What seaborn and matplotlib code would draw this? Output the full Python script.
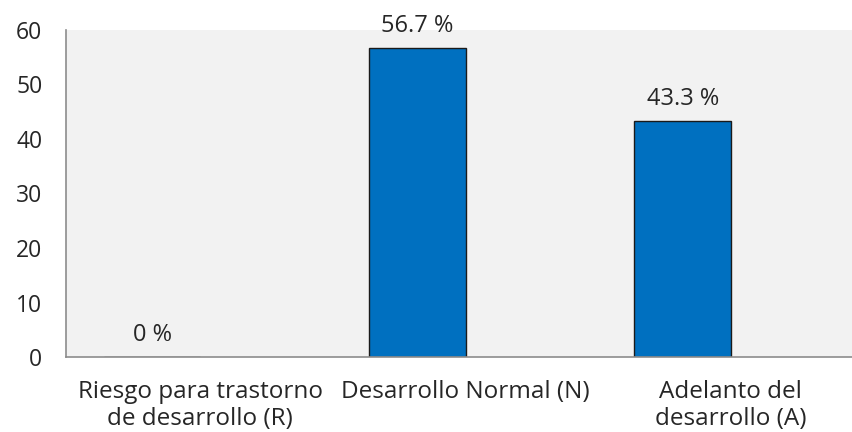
import matplotlib
matplotlib.use("Agg")
import matplotlib.pyplot as plt
from matplotlib.transforms import ScaledTranslation
import seaborn as sns
import pandas as pd

categories = ["Riesgo para trastorno\nde desarrollo (R)",
              "Desarrollo Normal (N)",
              "Adelanto del\ndesarrollo (A)"]
values = [0, 56.7, 43.3]
value_labels = ["0 %", "56.7 %", "43.3 %"]
y_ticks = [0, 10, 20, 30, 40, 50, 60]

sns.set_style("white")
plt.rcParams["font.family"] = ["Open Sans", "DejaVu Sans"]

df = pd.DataFrame({"categoria": categories, "porcentaje": values})

fig = plt.figure(figsize=(8.52, 4.32), dpi=100)
ax = fig.add_axes([0.0775, 0.1736, 0.9225, 0.757])
ax.set_facecolor("#f2f2f2")

sns.barplot(data=df, x="categoria", y="porcentaje", color="#0070c0",
            saturation=1, width=0.365, edgecolor="#1a1a1a", linewidth=1.0,
            ax=ax)

for i, (v, lab) in enumerate(zip(values, value_labels)):
    ax.annotate(lab, (i, v), xytext=(0, 11.5), textcoords="offset points",
                ha="center", va="baseline", fontsize=17, color="#262626")

ax.set_xlim(-0.324, 2.637)
ax.set_ylim(0, 60)
ax.set_yticks(y_ticks)
ax.set_xlabel("")
ax.set_ylabel("")
ax.tick_params(axis="y", length=0, pad=17, labelsize=16.5, labelcolor="#262626")
ax.tick_params(axis="x", length=0, pad=16.5, labelsize=17.5, labelcolor="#262626")

# category labels sit slightly to the right of their bars
shift = ScaledTranslation(0.48, 0, fig.dpi_scale_trans)
for t in ax.get_xticklabels():
    t.set_linespacing(1.15)
    t.set_transform(t.get_transform() + shift)

for s in ["top", "right"]:
    ax.spines[s].set_visible(False)
for s in ["left", "bottom"]:
    ax.spines[s].set_color("#8c8c8c")
    ax.spines[s].set_linewidth(1.2)

fig.savefig("out.png", dpi=100, facecolor="white")
